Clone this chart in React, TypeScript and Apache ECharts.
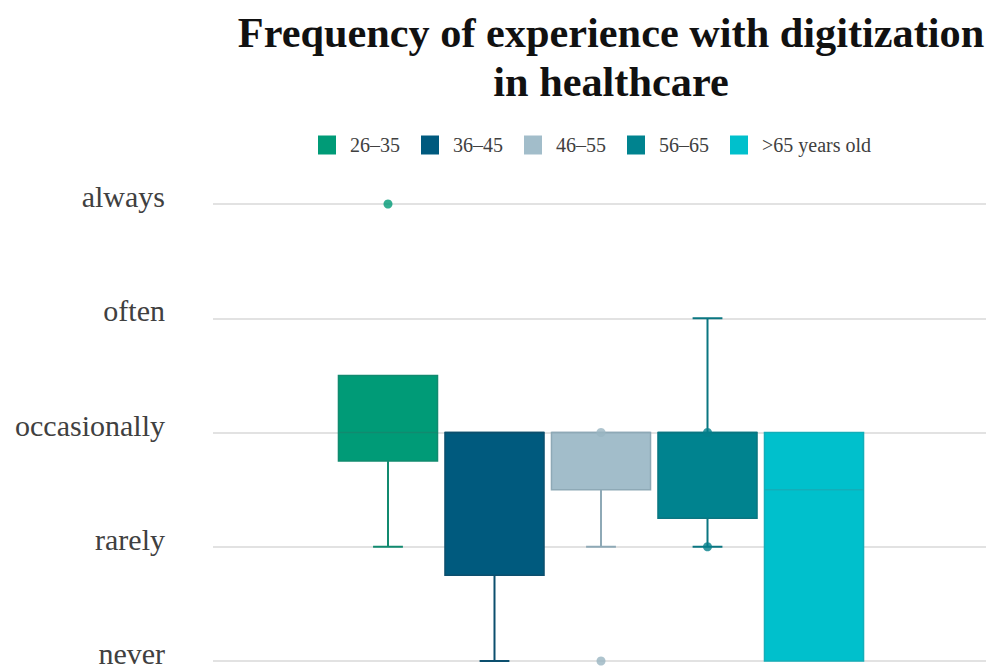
import React, { useEffect, useRef } from "react";
import * as echarts from "echarts";

// Frequency scale, bottom to top (value 1..5)
const levels = ["never", "rarely", "occasionally", "often", "always"];

// Age groups, in legend / plotting order
const ageGroups = ["26–35", "36–45", "46–55", "56–65", ">65 years old"];

// Box statistics per group: [min, Q1, median, Q3, max]
const box2635 = [2, 2.75, 3, 3.5, 3.5];
const box3645 = [1, 1.75, 3, 3, 3];
const box4655 = [2, 2.5, 3, 3, 3];
const box5665 = [2, 2.25, 3, 3, 4];
const box65plus = [1, 1, 2.5, 3, 3];

// Individual points drawn as dots per group
const dots2635 = [5];
const dots3645: number[] = [];
const dots4655 = [3, 1];
const dots5665 = [3, 2];
const dots65plus: number[] = [];

const boxes = [box2635, box3645, box4655, box5665, box65plus];
const dots = [dots2635, dots3645, dots4655, dots5665, dots65plus];

// Styling per group
const fills = ["#009B77", "#005A7E", "#A2BDCA", "#00838F", "#00C0CC"];
const strokes = ["#118A6F", "#0C4F6E", "#8EA9B6", "#0A7681", "#12AEB9"];
const dotColors = ["#009A76", "#0C5677", "#9AB5C2", "#047F8B", "#11B2BD"];

const BOX_WIDTH = 0.93; // in x-axis units (one unit per group)
const CAP_WIDTH = 0.28;
const SERIF = "'Liberation Serif', 'Times New Roman', serif";

export default function App() {
  const ref = useRef<HTMLDivElement>(null);

  useEffect(() => {
    if (!ref.current) return;
    const chart = echarts.init(ref.current, null, { renderer: "svg" });

    const boxSeries = ageGroups.map((name, i) => ({
      name,
      type: "custom",
      xAxisIndex: 0,
      yAxisIndex: 0,
      itemStyle: { color: fills[i] },
      encode: { x: 0, y: [1, 2, 3, 4, 5] },
      data: [[i + 1, ...boxes[i]]],
      z: 2,
      renderItem: (params: any, api: any) => {
        const x = api.value(0);
        const mn = api.value(1);
        const q1 = api.value(2);
        const md = api.value(3);
        const q3 = api.value(4);
        const mx = api.value(5);
        const [cx, yMin] = api.coord([x, mn]);
        const yQ1 = api.coord([x, q1])[1];
        const yMd = api.coord([x, md])[1];
        const yQ3 = api.coord([x, q3])[1];
        const yMax = api.coord([x, mx])[1];
        const bw = api.size([BOX_WIDTH, 0])[0];
        const cw = api.size([CAP_WIDTH, 0])[0];
        const whisker = { stroke: strokes[i], lineWidth: 2 };
        const children: any[] = [];
        if (mx > q3) {
          children.push(
            { type: "line", shape: { x1: cx, y1: yQ3, x2: cx, y2: yMax }, style: whisker },
            { type: "line", shape: { x1: cx - cw / 2, y1: yMax, x2: cx + cw / 2, y2: yMax }, style: whisker }
          );
        }
        if (mn < q1) {
          children.push(
            { type: "line", shape: { x1: cx, y1: yQ1, x2: cx, y2: yMin }, style: whisker },
            { type: "line", shape: { x1: cx - cw / 2, y1: yMin, x2: cx + cw / 2, y2: yMin }, style: whisker }
          );
        }
        children.push({
          type: "rect",
          shape: { x: cx - bw / 2, y: yQ3, width: bw, height: yQ1 - yQ3 },
          style: { fill: fills[i], stroke: strokes[i], lineWidth: 1.5 },
        });
        children.push({
          type: "line",
          shape: { x1: cx - bw / 2, y1: yMd, x2: cx + bw / 2, y2: yMd },
          style: { stroke: strokes[i], lineWidth: 1.5 },
        });
        return { type: "group", children };
      },
    }));

    const dotSeries = ageGroups
      .map((name, i) => ({
        name,
        type: "scatter",
        symbol: "circle",
        symbolSize: 9,
        itemStyle: { color: dotColors[i] },
        data: dots[i].map((v) => [i + 1, v]),
        z: 5,
      }))
      .filter((s) => s.data.length > 0);

    chart.setOption({
      animation: false,
      title: {
        text: "Frequency of experience with digitization\nin healthcare",
        left: 606,
        top: 3,
        textAlign: "center",
        textStyle: {
          fontFamily: SERIF,
          fontWeight: "bold",
          fontSize: 42.3,
          lineHeight: 49,
          color: "#111111",
        },
      },
      legend: {
        data: ageGroups,
        left: 318,
        top: 135,
        padding: 0,
        icon: "rect",
        itemWidth: 18,
        itemHeight: 19,
        itemGap: 21,
        textStyle: {
          fontFamily: SERIF,
          fontSize: 20,
          color: "#404040",
          padding: [0, 0, 0, 9],
        },
      },
      grid: { left: 213, top: 204, width: 776, height: 457, outerBoundsMode: "none" },
      xAxis: {
        type: "value",
        min: -0.643,
        max: 6.643,
        show: false,
        splitLine: { show: false },
      },
      yAxis: {
        type: "value",
        min: 1,
        max: 5,
        interval: 1,
        axisLine: { show: false },
        axisTick: { show: false },
        splitLine: { lineStyle: { color: "#D9D9D9", width: 1.5 } },
        axisLabel: {
          formatter: (v: number) => levels[Math.round(v) - 1] ?? "",
          fontFamily: SERIF,
          fontSize: 30,
          color: "#404040",
          margin: 48,
          verticalAlign: "bottom",
          lineHeight: 15,
        },
      },
      series: [...boxSeries, ...dotSeries],
    });

    return () => chart.dispose();
  }, []);

  return (
    <div
      ref={ref}
      style={{ position: "fixed", left: 0, top: 0, width: 986, height: 666, background: "#ffffff" }}
    />
  );
}
